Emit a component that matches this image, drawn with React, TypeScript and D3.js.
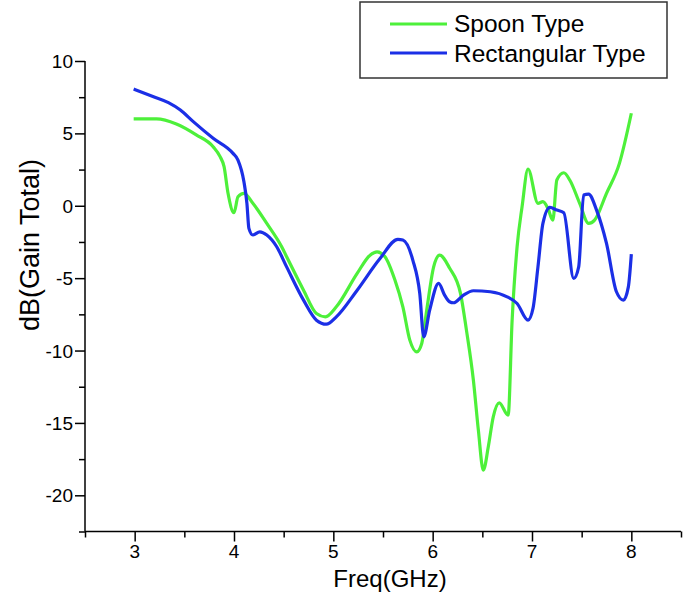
import React, { useEffect, useRef } from 'react';
import * as d3 from 'd3';

// Freq (GHz) / gain (dB)
const spoonFreq = [2.99, 3.22, 3.42, 3.62, 3.79, 3.86, 3.9, 3.94, 4.0, 4.04, 4.1, 4.19, 4.33, 4.48, 4.53, 4.7, 4.83, 4.92, 5.03, 5.24, 5.37, 5.44, 5.52, 5.62, 5.7, 5.77, 5.84, 5.89, 5.94, 6.01, 6.07, 6.17, 6.28, 6.34, 6.41, 6.46, 6.51, 6.56, 6.61, 6.67, 6.76, 6.8, 6.85, 6.9, 6.96, 7.06, 7.11, 7.16, 7.21, 7.25, 7.32, 7.38, 7.48, 7.57, 7.63, 7.75, 7.88, 8.0];
const spoonGain = [6.0, 6.0, 5.65, 4.9, 4.08, 3.39, 2.7, 0.86, -0.48, 0.62, 0.86, 0.17, -1.22, -2.83, -3.52, -5.83, -7.44, -7.67, -6.98, -4.67, -3.41, -3.18, -3.52, -5.13, -6.98, -9.28, -10.09, -9.51, -7.21, -4.22, -3.41, -4.3, -6.05, -8.59, -12.05, -15.5, -18.27, -16.65, -14.58, -13.61, -14.46, -7.9, -2.83, -0.07, 2.54, 0.17, 0.28, -0.18, -0.99, 1.78, 2.28, 1.78, 0.17, -1.22, -0.99, 0.86, 2.93, 6.39];

const rectFreq = [2.99, 3.19, 3.34, 3.46, 3.59, 3.79, 3.99, 4.04, 4.1, 4.13, 4.15, 4.19, 4.26, 4.33, 4.43, 4.53, 4.7, 4.83, 4.93, 5.03, 5.24, 5.47, 5.65, 5.7, 5.8, 5.87, 5.91, 5.97, 6.06, 6.12, 6.17, 6.21, 6.31, 6.41, 6.58, 6.75, 6.85, 6.96, 7.01, 7.06, 7.11, 7.18, 7.25, 7.32, 7.42, 7.47, 7.52, 7.57, 7.65, 7.75, 7.85, 7.92, 7.97, 8.0];
const rectGain = [8.06, 7.53, 7.12, 6.61, 5.81, 4.66, 3.62, 3.16, 1.66, 0.17, -1.56, -2.02, -1.8, -2.02, -2.83, -4.22, -6.52, -7.9, -8.18, -7.67, -5.83, -3.64, -2.32, -2.37, -3.75, -6.05, -9.05, -7.21, -5.36, -6.17, -6.63, -6.7, -6.17, -5.87, -5.94, -6.29, -6.75, -7.9, -7.09, -4.22, -1.22, -0.11, -0.3, -0.48, -5.02, -4.22, 0.74, 0.81, -0.3, -2.6, -5.94, -6.52, -5.6, -3.34];

const seriesNames = ['Spoon Type', 'Rectangular Type'];
const seriesColors = ['#4df03a', '#1b2fe6'];
const xTicks = [3, 4, 5, 6, 7, 8];
const yTicks = [10, 5, 0, -5, -10, -15, -20];

const App = () => {
    const ref = useRef<SVGSVGElement>(null);

    useEffect(() => {
        const svg = d3.select(ref.current);
        svg.selectAll('*').remove();
        const font = 'Liberation Sans, Arial, sans-serif';

        const x = d3.scaleLinear().domain([2.5, 8.5]).range([85, 681]);
        const y = d3.scaleLinear().domain([-22.5, 10]).range([531.5, 61]);

        const series = [
            spoonFreq.map((f, i) => [f, spoonGain[i]] as [number, number]),
            rectFreq.map((f, i) => [f, rectGain[i]] as [number, number]),
        ];

        const line = d3.line<[number, number]>()
            .x(d => x(d[0]))
            .y(d => y(d[1]))
            .curve(d3.curveMonotoneX);

        // draw spoon first, rectangular on top
        series.forEach((s, i) => {
            svg.append('path')
                .attr('d', line(s))
                .attr('fill', 'none')
                .attr('stroke', seriesColors[i])
                .attr('stroke-width', 3.2)
                .attr('stroke-linejoin', 'round');
        });

        // x axis
        const xAxis = svg.append('g').attr('transform', `translate(0,${y(-22.5)})`);
        xAxis.call(d3.axisBottom(x).tickValues(d3.range(2.5, 8.51, 0.5)).tickSize(6).tickFormat(() => ''));
        xAxis.selectAll('.tick line').attr('y2', (d: any) => (Number.isInteger(d) ? 10 : 6)).attr('stroke-width', 1.5);
        xAxis.select('.domain').attr('stroke-width', 1.5).attr('d', `M85,0H681`);

        svg.selectAll('.xlab')
            .data(xTicks)
            .enter().append('text')
            .attr('x', d => x(d))
            .attr('y', 558)
            .attr('text-anchor', 'middle')
            .attr('font-family', font)
            .attr('font-size', 19)
            .text(d => d);

        // y axis
        const yAxis = svg.append('g').attr('transform', `translate(85,0)`);
        yAxis.call(d3.axisLeft(y).tickValues(d3.range(-22.5, 10.01, 2.5)).tickSize(6).tickFormat(() => ''));
        yAxis.selectAll('.tick line').attr('x2', (d: any) => (d % 5 === 0 ? -10 : -6)).attr('stroke-width', 1.5);
        yAxis.select('.domain').attr('stroke-width', 1.5).attr('d', `M0,${y(10)}V${y(-22.5)}`);

        svg.selectAll('.ylab')
            .data(yTicks)
            .enter().append('text')
            .attr('x', 73)
            .attr('y', d => y(d) + 7)
            .attr('text-anchor', 'end')
            .attr('font-family', font)
            .attr('font-size', 19)
            .text(d => d);

        svg.append('text')
            .attr('x', 390)
            .attr('y', 587)
            .attr('text-anchor', 'middle')
            .attr('font-family', font)
            .attr('font-size', 24)
            .text('Freq(GHz)');

        svg.append('text')
            .attr('transform', 'translate(39,245) rotate(-90)')
            .attr('text-anchor', 'middle')
            .attr('font-family', font)
            .attr('font-size', 27)
            .text('dB(Gain Total)');

        // legend
        const legend = svg.append('g');
        legend.append('rect')
            .attr('x', 360).attr('y', 2).attr('width', 307).attr('height', 76)
            .attr('fill', 'white').attr('stroke', '#333').attr('stroke-width', 1.5);
        seriesNames.forEach((name, i) => {
            legend.append('line')
                .attr('x1', 390).attr('x2', 447)
                .attr('y1', 24 + i * 29).attr('y2', 24 + i * 29)
                .attr('stroke', seriesColors[i]).attr('stroke-width', 3);
            legend.append('text')
                .attr('x', 454).attr('y', 32 + i * 30)
                .attr('font-family', font)
                .attr('font-size', 24.5)
                .text(name);
        });
    }, []);

    return <svg ref={ref} width={685} height={606} style={{ position: 'absolute', left: 0, top: 0, background: 'white' }} />;
};

export default App;
